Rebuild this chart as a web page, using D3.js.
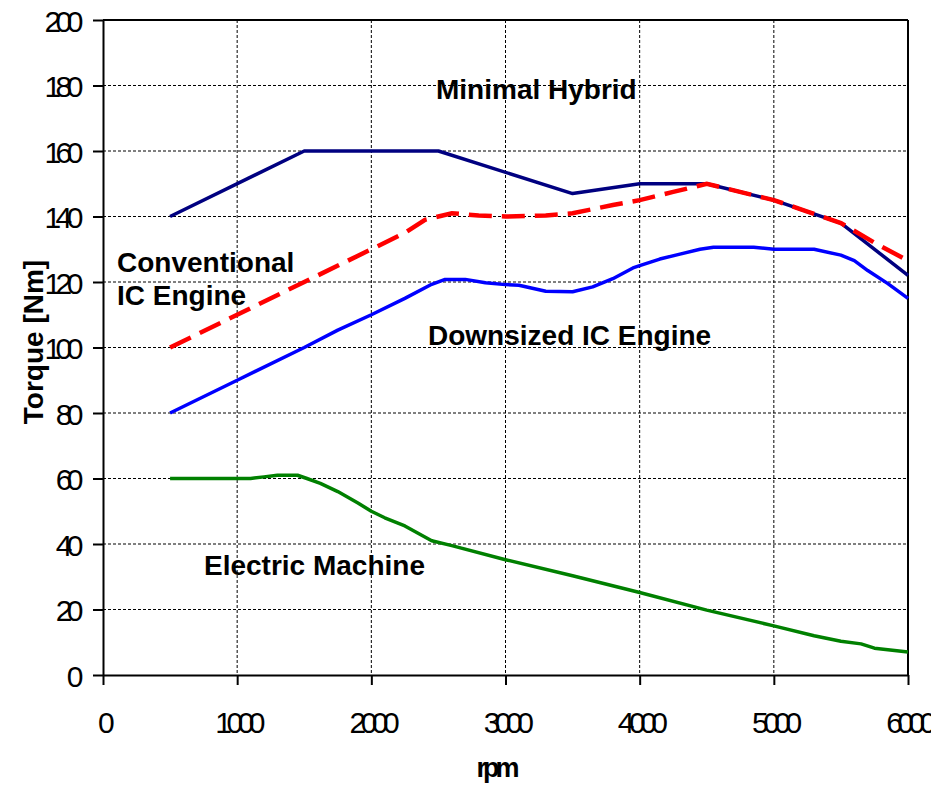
<!DOCTYPE html>
<html>
<head>
<meta charset="utf-8">
<script src="https://cdn.jsdelivr.net/npm/d3@7"></script>
<style>
  html, body { margin: 0; padding: 0; background: #fff; }
  svg { display: block; }
  text { font-family: "Liberation Sans", Arial, sans-serif; fill: #000; }
</style>
</head>
<body>
<svg id="chart" width="931" height="787"></svg>
<script>
// ---- data ----
const xTicks = [0, 1000, 2000, 3000, 4000, 5000, 6000];
const yTicks = [0, 20, 40, 60, 80, 100, 120, 140, 160, 180, 200];

const hybridRpm = [500, 1500, 2500, 3500, 4000, 4500, 5000, 5500, 6000];
const hybridTorque = [140, 160, 160, 147, 150, 150, 145, 138, 122];

const conventionalRpm = [500, 1000, 1500, 2000, 2250, 2400, 2500, 2600, 2800, 3000, 3300, 3500, 3800, 4000, 4250, 4500, 4800, 5000, 5250, 5500, 5750, 6000];
const conventionalTorque = [100, 110, 120, 130, 135, 139, 140, 141, 140.3, 140, 140.3, 141, 143.5, 145, 147.5, 150, 147, 145, 141.5, 138, 132, 126.5];

const downsizedRpm = [500, 1000, 1500, 1750, 2000, 2250, 2450, 2550, 2700, 2850, 3000, 3100, 3300, 3500, 3650, 3800, 3950, 4000, 4150, 4300, 4450, 4550, 4650, 4850, 5000, 5300, 5500, 5600, 5700, 5850, 6000];
const downsizedTorque = [80, 90, 100, 105.3, 110, 115, 119.3, 120.8, 120.8, 119.8, 119.2, 119, 117.2, 117, 118.5, 121, 124.3, 125, 127, 128.5, 130, 130.6, 130.6, 130.6, 130, 130, 128.2, 126.5, 123.5, 119.5, 115];

const electricRpm = [500, 1100, 1200, 1300, 1450, 1520, 1620, 1750, 1900, 2000, 2100, 2250, 2450, 2600, 3000, 3500, 4000, 4500, 5000, 5300, 5500, 5650, 5750, 6000];
const electricTorque = [60, 60, 60.5, 61, 61, 60, 58.5, 56, 52.5, 50, 48, 45.5, 41, 39.5, 35.2, 30.3, 25.2, 19.8, 15, 12, 10.3, 9.5, 8.2, 7];

const seriesNames = ["Minimal Hybrid", "Conventional IC Engine", "Downsized IC Engine", "Electric Machine"];

// ---- layout ----
const svg = d3.select("#chart");
const L = 103, R = 908, T = 20, B = 675;
const x = d3.scaleLinear().domain([0, 6000]).range([L, R]);
const y = d3.scaleLinear().domain([0, 200]).range([B, T]);

// grid
const grid = svg.append("g");
grid.selectAll("line.gx").data(xTicks.filter(d => d > 0 && d < 6000)).join("line")
  .attr("x1", d => x(d)).attr("x2", d => x(d)).attr("y1", T).attr("y2", B)
  .attr("stroke", "#000").attr("stroke-width", 1).attr("stroke-dasharray", "3,2");
grid.selectAll("line.gy").data(yTicks.filter(d => d > 0 && d < 200)).join("line")
  .attr("x1", L).attr("x2", R).attr("y1", d => y(d)).attr("y2", d => y(d))
  .attr("stroke", "#000").attr("stroke-width", 1).attr("stroke-dasharray", "3,2");

// frame top/right
svg.append("line").attr("x1", L).attr("x2", R).attr("y1", T).attr("y2", T).attr("stroke", "#000").attr("stroke-width", 2);
svg.append("line").attr("x1", R).attr("x2", R).attr("y1", T).attr("y2", B).attr("stroke", "#000").attr("stroke-width", 2);

// axes
const xAxis = svg.append("g").attr("transform", `translate(0,${B})`)
  .call(d3.axisBottom(x).tickValues(xTicks).tickSize(10).tickSizeOuter(0).tickFormat(d3.format("d")));
const yAxis = svg.append("g").attr("transform", `translate(${L},0)`)
  .call(d3.axisLeft(y).tickValues(yTicks).tickSize(10).tickSizeOuter(0).tickFormat(d3.format("d")));
[xAxis, yAxis].forEach(a => {
  a.select(".domain").attr("stroke", "#000").attr("stroke-width", 2);
  a.selectAll(".tick line").attr("stroke", "#000").attr("stroke-width", 2);
  a.selectAll(".tick text").attr("font-family", "Liberation Sans, Arial, sans-serif")
    .attr("font-size", 30).attr("letter-spacing", "-5.5px").attr("fill", "#000");
});
xAxis.selectAll(".tick text").attr("dy", null).attr("y", 58).attr("dx", 0);
yAxis.selectAll(".tick text").attr("dy", null).attr("x", -25).attr("y", 11);

// lines
const line = d3.line().x(d => x(d[0])).y(d => y(d[1]));
const zip = (a, b) => a.map((v, i) => [v, b[i]]);
const plot = svg.append("g");
plot.append("path").datum(zip(hybridRpm, hybridTorque)).attr("d", line)
  .attr("fill", "none").attr("stroke", "#000080").attr("stroke-width", 3.5).attr("stroke-linejoin", "round");
plot.append("path").datum(zip(downsizedRpm, downsizedTorque)).attr("d", line)
  .attr("fill", "none").attr("stroke", "#0000FF").attr("stroke-width", 3.5).attr("stroke-linejoin", "round");
plot.append("path").datum(zip(electricRpm, electricTorque)).attr("d", line)
  .attr("fill", "none").attr("stroke", "#008000").attr("stroke-width", 3.5).attr("stroke-linejoin", "round");
plot.append("path").datum(zip(conventionalRpm, conventionalTorque)).attr("d", line)
  .attr("fill", "none").attr("stroke", "#FF0000").attr("stroke-width", 4.5).attr("stroke-dasharray", "23,10");

// series labels
const lbl = svg.append("g").attr("font-weight", "bold").attr("font-size", 28);
lbl.append("text").attr("x", 436).attr("y", 99).text(seriesNames[0]);
lbl.append("text").attr("x", 117).attr("y", 272).text("Conventional");
lbl.append("text").attr("x", 117).attr("y", 305).text("IC Engine");
lbl.append("text").attr("x", 428).attr("y", 345).text(seriesNames[2]);
lbl.append("text").attr("x", 204).attr("y", 575).text(seriesNames[3]);

// axis titles
svg.append("text").attr("transform", "translate(43,342) rotate(-90)")
  .attr("text-anchor", "middle").attr("font-weight", "bold").attr("font-size", 28).text("Torque [Nm]");
svg.append("text").attr("x", 496).attr("y", 777).attr("text-anchor", "middle")
  .attr("font-weight", "bold").attr("font-size", 27).attr("letter-spacing", "-4px").text("rpm");
</script>
</body>
</html>
